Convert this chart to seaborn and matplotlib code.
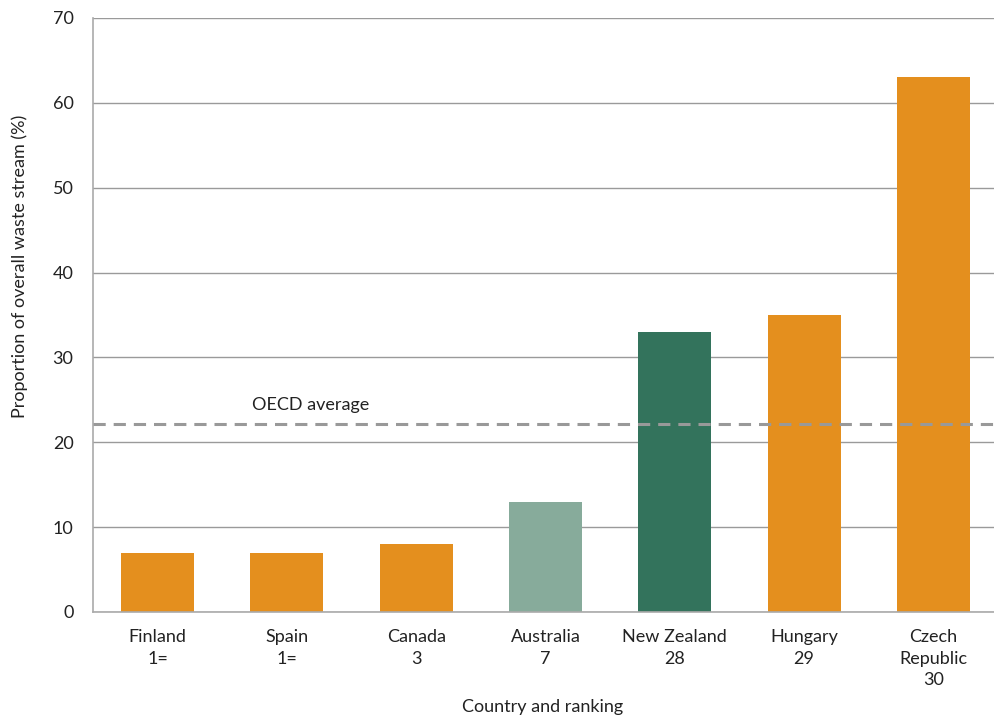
import matplotlib
matplotlib.use("Agg")
import matplotlib.pyplot as plt
import seaborn as sns
import pandas as pd

countries = ["Finland", "Spain", "Canada", "Australia", "New Zealand", "Hungary", "Czech\nRepublic"]
rankings = ["1=", "1=", "3", "7", "28", "29", "30"]
shares = [7, 7, 8, 13, 33, 35, 63]
bar_colors = ["#E48F1E", "#E48F1E", "#E48F1E", "#87AB9B", "#33735C", "#E48F1E", "#E48F1E"]
oecd_average = 22.2

labels = [f"{c}\n{r}" for c, r in zip(countries, rankings)]
df = pd.DataFrame({"label": labels, "share": shares})

sns.set_theme(style="white")
plt.rcParams["font.family"] = ["Lato", "DejaVu Sans"]
text_color = "#222222"

fig = plt.figure(figsize=(9.95, 7.2), dpi=100)
ax = fig.add_axes([93 / 995, 1 - 612 / 720, 905 / 995, 594 / 720])

sns.barplot(data=df, x="label", y="share", hue="label", palette=bar_colors,
            width=0.565, legend=False, ax=ax, saturation=1, linewidth=0)

ax.set_ylim(0, 70)
ax.set_xlim(-0.5, len(labels) - 0.5)
ax.set_yticks(range(0, 71, 10))
ax.yaxis.grid(True, color="#9a9a9a", linewidth=1)
ax.set_axisbelow(True)

for side in ["top", "right"]:
    ax.spines[side].set_visible(False)
for side in ["left", "bottom"]:
    ax.spines[side].set_color("#aaaaaa")
    ax.spines[side].set_linewidth(1.2)

ax.tick_params(axis="both", length=0, labelsize=13, colors=text_color)
ax.tick_params(axis="x", pad=12)
ax.tick_params(axis="y", pad=14)
for t in ax.get_xticklabels():
    t.set_linespacing(1.45)

ax.set_xlabel("")
ax.set_ylabel("")
fig.text(0.545, 1 - 707 / 720, "Country and ranking", ha="center", va="center",
         fontsize=13, color=text_color)
fig.text(20 / 995, 1 - 266 / 720, "Proportion of overall waste stream (%)",
         rotation=90, ha="center", va="center", fontsize=13, color=text_color)

ax.axhline(oecd_average, color="#999999", linewidth=2.2, linestyle=(0, (4, 2.6)), zorder=3)
ax.text(0.73, oecd_average + 1.3, "OECD average", fontsize=13, color=text_color,
        ha="left", va="bottom")

fig.savefig("out.png", dpi=100)
